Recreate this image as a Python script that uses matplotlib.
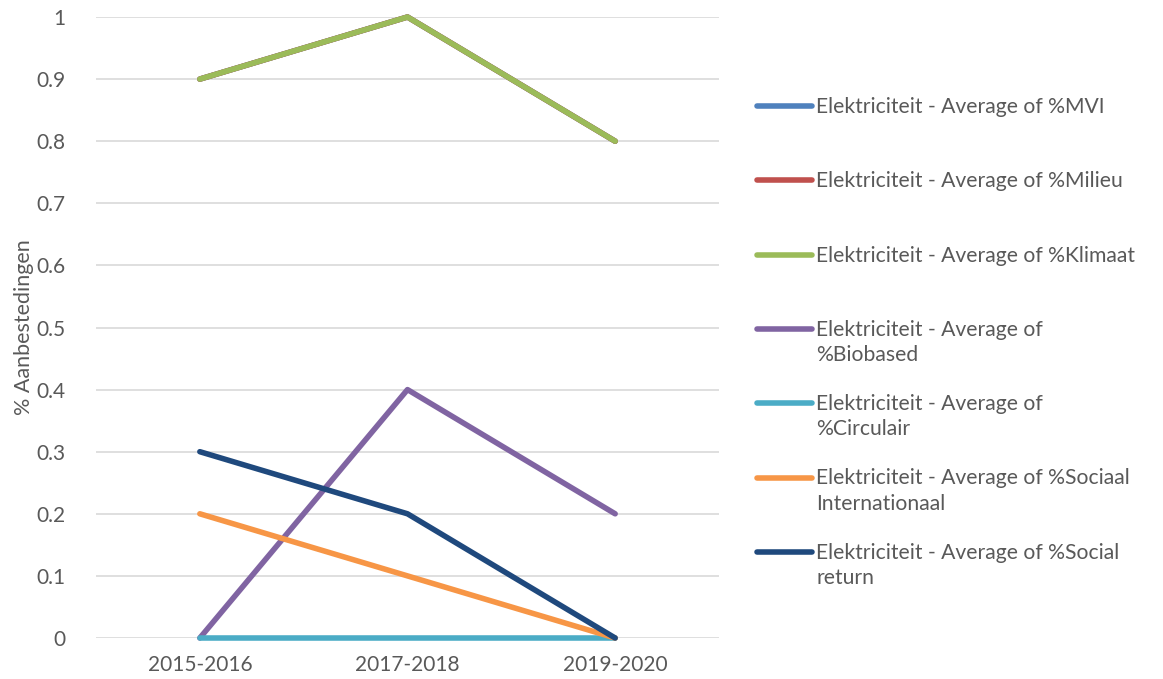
import matplotlib
matplotlib.use('Agg')
import matplotlib.pyplot as plt
from matplotlib.lines import Line2D

plt.rcParams['font.family'] = ['Lato', 'DejaVu Sans']

# Data
periods = ['2015-2016', '2017-2018', '2019-2020']
mvi = [0.9, 1.0, 0.8]
milieu = [0.9, 1.0, 0.8]
klimaat = [0.9, 1.0, 0.8]
biobased = [0.0, 0.4, 0.2]
circulair = [0.0, 0.0, 0.0]
sociaal_int = [0.2, 0.1, 0.0]
social_return = [0.3, 0.2, 0.0]

series = [
    ('Elektriciteit - Average of %MVI', mvi, '#4F81BD'),
    ('Elektriciteit - Average of %Milieu', milieu, '#C0504D'),
    ('Elektriciteit - Average of %Klimaat', klimaat, '#9BBB59'),
    ('Elektriciteit - Average of\n%Biobased', biobased, '#8064A2'),
    ('Elektriciteit - Average of\n%Circulair', circulair, '#4BACC6'),
    ('Elektriciteit - Average of %Sociaal\nInternationaal', sociaal_int, '#F79646'),
    ('Elektriciteit - Average of %Social\nreturn', social_return, '#1F497D'),
]

text_col = '#595959'
W, H = 1163, 679
fig = plt.figure(figsize=(W / 100, H / 100), dpi=100)
ax = fig.add_axes([96 / W, 1 - 638 / H, (719 - 96) / W, (638 - 17) / H])

x = range(len(periods))
for label, vals, col in series:
    ax.plot(x, vals, color=col, lw=4, solid_capstyle='round', solid_joinstyle='round')

ax.set_xlim(-0.5, 2.5)
ax.set_ylim(0, 1)
ax.set_yticks([i / 10 for i in range(11)])
ax.set_yticklabels(['0'] + ['0.%d' % i for i in range(1, 10)] + ['1'])
ax.set_xticks(list(x))
ax.set_xticklabels(periods)
ax.tick_params(length=0, colors=text_col, labelsize=15, pad=12)
ax.tick_params(axis='y', pad=22)
ax.grid(axis='y', color='#D9D9D9', lw=1.2)
ax.set_axisbelow(True)
for s in ax.spines.values():
    s.set_visible(False)
for ln in ax.get_lines():
    ln.set_clip_on(False)
ax.set_ylabel('% Aanbestedingen', color=text_col, fontsize=15.5, labelpad=2)

# legend, Excel style: handle aligned with first text line
for i, (label, vals, col) in enumerate(series):
    yc = 1 - (106 + 74.3 * i) / H
    fig.add_artist(Line2D([757 / W, 812 / W], [yc, yc], color=col, lw=4,
                          solid_capstyle='round', transform=fig.transFigure))
    fig.text(816 / W, yc + 9 / H, label, color=text_col, fontsize=15.2,
             va='top', ha='left', linespacing=1.33)

fig.savefig('out.png', dpi=100, facecolor='white')
